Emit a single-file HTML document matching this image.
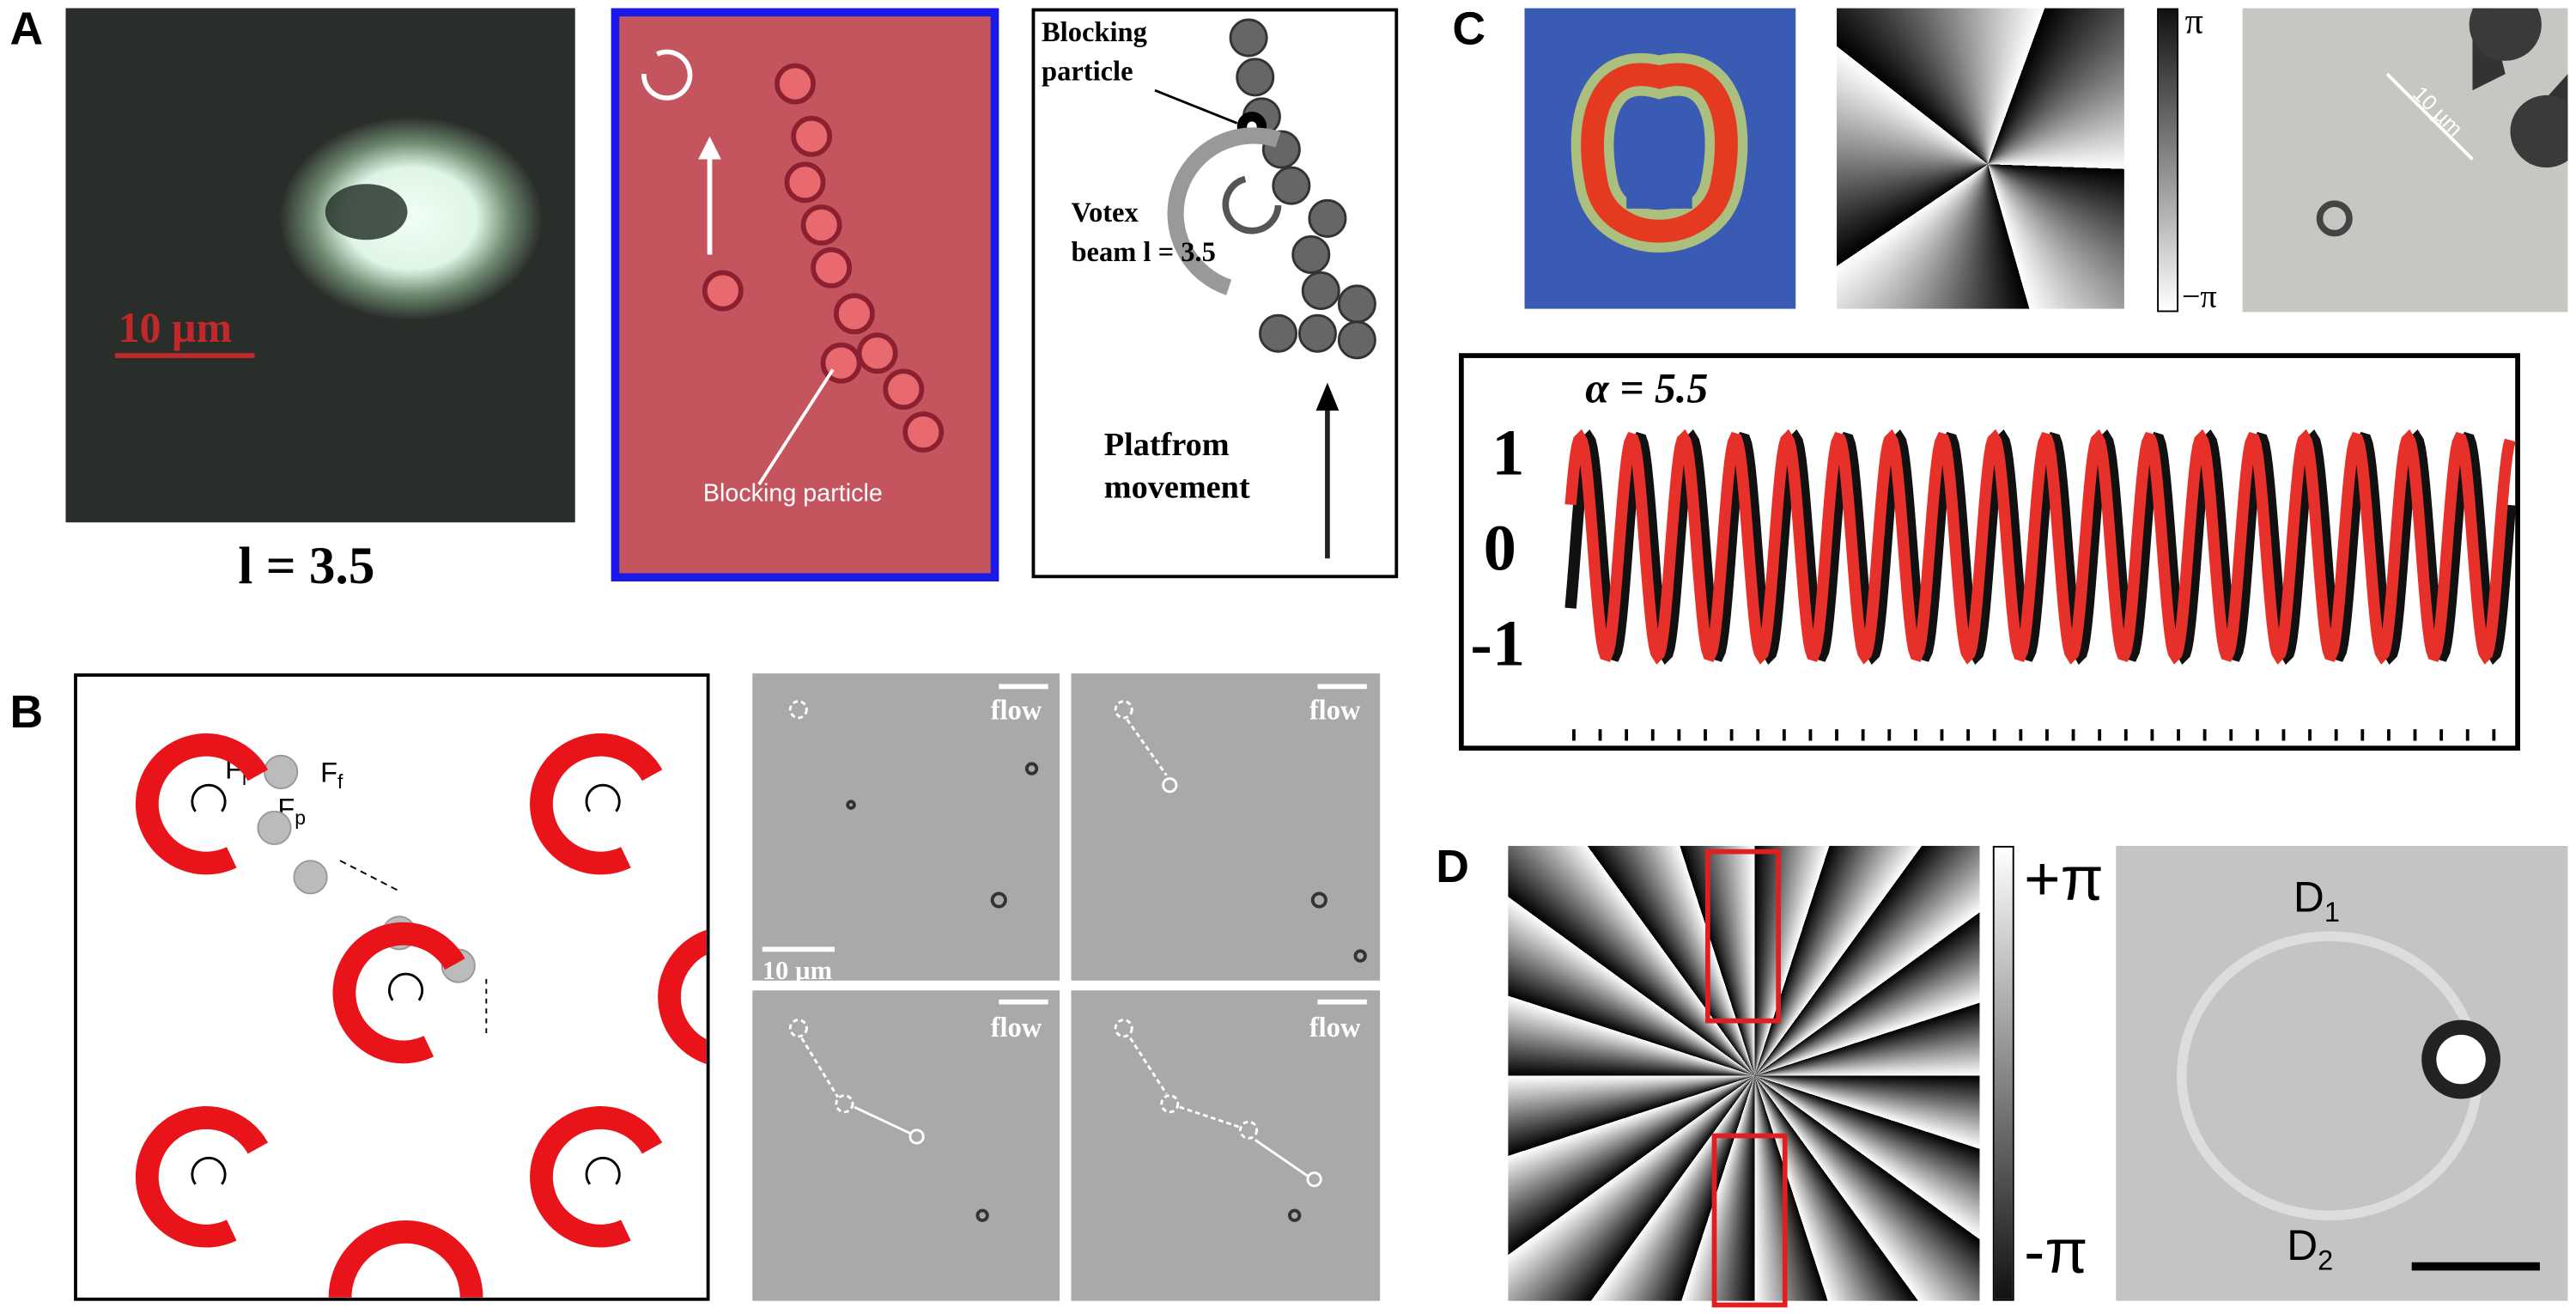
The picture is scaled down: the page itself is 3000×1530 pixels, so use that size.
<!DOCTYPE html>
<html><head><meta charset="utf-8"><style>
html,body{margin:0;padding:0;background:#fff;width:3000px;height:1530px;overflow:hidden}
#s{position:absolute;left:0;top:0;width:1568px;height:800px;transform:scale(1.91327,1.9125);transform-origin:0 0;font-family:"Liberation Sans",sans-serif}
.a{position:absolute}
.L{position:absolute;font-weight:bold;font-size:28px;color:#000}
</style></head><body><div id="s">
<div class="L" style="left:6px;top:2px">A</div>
<div class="L" style="left:6px;top:418px">B</div>
<div class="L" style="left:884px;top:2px">C</div>
<div class="L" style="left:874px;top:512px">D</div>

<!-- A1 -->
<div class="a" style="left:40px;top:5px;width:310px;height:313px;background:radial-gradient(ellipse 80px 62px at 210px 128px,#f0fff4 0%,#dff5e6 50%,#6f8a70 75%,#2a2e2b 100%),#2a2d2b"></div>
<div class="a" style="left:198px;top:112px;width:50px;height:34px;border-radius:50%;background:#1d2a22;opacity:.8"></div>
<div class="a" style="left:72px;top:185px;font-family:'Liberation Serif',serif;font-size:26px;color:#c0282a;font-weight:bold">10 µm</div>
<div class="a" style="left:70px;top:215px;width:85px;height:3px;background:#c0282a"></div>
<div class="a" style="left:145px;top:326px;font-family:'Liberation Serif',serif;font-size:32px;font-weight:bold">l = 3.5</div>

<!-- A2 -->
<div class="a" style="left:372px;top:5px;width:226px;height:339px;border:5px solid #1a1ae8;background:#c4545e"></div>
<svg class="a" style="left:372px;top:5px" width="236" height="349">
<g fill="#e86a6e" stroke="#8a2030" stroke-width="3">
<circle cx="112" cy="46" r="11"/><circle cx="122" cy="78" r="11"/><circle cx="118" cy="106" r="11"/><circle cx="128" cy="132" r="11"/><circle cx="134" cy="158" r="11"/><circle cx="148" cy="186" r="11"/><circle cx="162" cy="210" r="11"/><circle cx="140" cy="216" r="11"/><circle cx="178" cy="232" r="11"/><circle cx="190" cy="258" r="11"/><circle cx="68" cy="172" r="11"/>
</g>
<path d="M20 40 A14 14 0 1 0 28 28" stroke="#fff" stroke-width="3" fill="none"/>
<path d="M60 150 V85" stroke="#fff" stroke-width="3"/><path d="M53 92 L60 78 L67 92Z" fill="#fff"/>
<path d="M90 290 L135 220" stroke="#fff" stroke-width="2"/>
<text x="56" y="300" fill="#fff" font-size="15">Blocking particle</text>
</svg>

<!-- A3 -->
<div class="a" style="left:628px;top:5px;width:219px;height:343px;border:2px solid #000;background:#fff"></div>
<svg class="a" style="left:628px;top:5px" width="223" height="347">
<g fill="#666" stroke="#333" stroke-width="1.5">
<circle cx="132" cy="18" r="11"/><circle cx="136" cy="42" r="11"/><circle cx="140" cy="66" r="11"/><circle cx="152" cy="86" r="11"/><circle cx="158" cy="108" r="11"/><circle cx="180" cy="128" r="11"/><circle cx="170" cy="150" r="11"/><circle cx="176" cy="172" r="11"/><circle cx="198" cy="180" r="11"/><circle cx="150" cy="198" r="11"/><circle cx="174" cy="198" r="11"/><circle cx="198" cy="202" r="11"/>
</g>
<circle cx="134" cy="72" r="9" fill="#000"/><circle cx="134" cy="72" r="3" fill="#fff"/>
<path d="M120 170 A45 45 0 1 1 150 80" stroke="#999" stroke-width="10" fill="none"/>
<path d="M150 120 A16 16 0 1 1 130 104" stroke="#555" stroke-width="4" fill="none"/>
<path d="M75 50 L125 70" stroke="#000" stroke-width="1.5"/>
<text x="6" y="20" font-family="Liberation Serif,serif" font-weight="bold" font-size="17">Blocking</text>
<text x="6" y="44" font-family="Liberation Serif,serif" font-weight="bold" font-size="17">particle</text>
<text x="24" y="130" font-family="Liberation Serif,serif" font-weight="bold" font-size="17">Votex</text>
<text x="24" y="154" font-family="Liberation Serif,serif" font-weight="bold" font-size="17">beam l = 3.5</text>
<text x="44" y="272" font-family="Liberation Serif,serif" font-weight="bold" font-size="20">Platfrom</text>
<text x="44" y="298" font-family="Liberation Serif,serif" font-weight="bold" font-size="20">movement</text>
<path d="M180 335 V240" stroke="#222" stroke-width="3"/><path d="M173 245 L180 228 L187 245Z" fill="#000"/>
</svg>

<!-- C images -->
<div class="a" style="left:928px;top:5px;width:165px;height:183px;background:#3a5bb4"></div>
<svg class="a" style="left:928px;top:5px" width="165" height="183">
<path d="M82 42 C45 32 36 70 44 108 C52 145 112 145 120 108 C128 70 120 32 82 42Z" fill="none" stroke="#c8d870" stroke-width="26" opacity=".8"/>
<path d="M82 42 C45 32 36 70 44 108 C52 145 112 145 120 108 C128 70 120 32 82 42Z" fill="none" stroke="#e33a20" stroke-width="14"/>
<path d="M62 62 H102 V122 H62Z" fill="#3a5bb4"/>
</svg>
<div class="a" style="left:1118px;top:5px;width:175px;height:183px;background:conic-gradient(from 20deg at 92px 95px,#000 0deg,#fff 72deg,#000 72deg,#fff 144deg,#000 144deg,#fff 216deg,#000 216deg,#fff 288deg,#000 288deg,#fff 360deg)"></div>
<div class="a" style="left:1313px;top:5px;width:11px;height:183px;border:1px solid #000;background:linear-gradient(#111,#fff)"></div>
<div class="a" style="left:1330px;top:0px;font-size:22px;font-family:'Liberation Serif',serif">π</div>
<div class="a" style="left:1328px;top:170px;font-size:20px;font-family:'Liberation Serif',serif">−π</div>
<div class="a" style="left:1365px;top:5px;width:198px;height:185px;background:#c6c6c2"></div>
<svg class="a" style="left:1365px;top:5px" width="198" height="185">
<path d="M140 0 L150 0 L160 40 L140 50 Z" fill="#333"/><path d="M180 60 L198 40 V90 L175 95Z" fill="#333"/>
<circle cx="160" cy="10" r="22" fill="#3a3a3a"/><circle cx="185" cy="75" r="22" fill="#3a3a3a"/>
<path d="M88 40 L140 92" stroke="#fff" stroke-width="2"/>
<text x="100" y="60" fill="#fff" font-size="13" transform="rotate(45 110 60)">10 µm</text>
<circle cx="56" cy="128" r="9" fill="none" stroke="#444" stroke-width="4"/>
</svg>

<!-- C plot -->
<div class="a" style="left:888px;top:215px;width:640px;height:236px;border:3px solid #000"></div>
<svg class="a" style="left:888px;top:215px" width="646" height="242" id="cp"></svg>
<div class="a" style="left:965px;top:222px;font-family:'Liberation Serif',serif;font-style:italic;font-weight:bold;font-size:26px">α = 5.5</div>
<div class="a" style="left:908px;top:252px;font-family:'Liberation Serif',serif;font-weight:bold;font-size:40px">1</div>
<div class="a" style="left:903px;top:310px;font-family:'Liberation Serif',serif;font-weight:bold;font-size:40px">0</div>
<div class="a" style="left:895px;top:368px;font-family:'Liberation Serif',serif;font-weight:bold;font-size:40px">-1</div>

<!-- B1 -->
<div class="a" style="left:45px;top:410px;width:383px;height:378px;border:2px solid #000;overflow:hidden;background:#fff">
<svg width="383" height="378" id="b1">
<g font-size="17" fill="#000"><text x="90" y="62">F<tspan font-size="12" dy="4">l</tspan></text><text x="148" y="64">F<tspan font-size="12" dy="4">f</tspan></text><text x="122" y="86">F<tspan font-size="12" dy="4">p</tspan></text></g>
<g fill="#bbb" stroke="#999"><circle cx="124" cy="58" r="10"/><circle cx="120" cy="92" r="10"/><circle cx="142" cy="122" r="10"/><circle cx="196" cy="156" r="10"/><circle cx="232" cy="176" r="10"/></g>
<path d="M160 112 L195 130" stroke="#000" stroke-dasharray="4 3"/>
<path d="M249 184 V218" stroke="#000" stroke-dasharray="3 3"/>
</svg></div>

<!-- B2 -->
<div class="a" style="left:458px;top:410px;width:187px;height:187px;background:#a9a9a7"></div>
<div class="a" style="left:652px;top:410px;width:188px;height:187px;background:#a9a9a7"></div>
<div class="a" style="left:458px;top:603px;width:187px;height:189px;background:#a9a9a7"></div>
<div class="a" style="left:652px;top:603px;width:188px;height:189px;background:#a9a9a7"></div>
<svg class="a" style="left:458px;top:410px" width="382" height="382" font-family="Liberation Serif,serif" font-weight="bold">
<g fill="#fff" font-size="17"><text x="145" y="28">flow</text><text x="339" y="28">flow</text><text x="145" y="221">flow</text><text x="339" y="221">flow</text></g>
<g stroke="#fff" stroke-width="3"><path d="M150 8 H180"/><path d="M344 8 H374"/><path d="M150 200 H180"/><path d="M344 200 H374"/></g>
<text x="6" y="186" fill="#fff" font-size="16">10 µm</text><path d="M6 168 H50" stroke="#fff" stroke-width="3"/>
<g fill="none" stroke="#fff" stroke-width="1.5" stroke-dasharray="3 2"><circle cx="28" cy="22" r="5"/><circle cx="226" cy="22" r="5"/><path d="M228 28 L252 62"/><circle cx="28" cy="216" r="5"/><path d="M30 222 L52 258"/><circle cx="56" cy="262" r="5"/><circle cx="226" cy="216" r="5"/><circle cx="254" cy="262" r="5"/><circle cx="302" cy="278" r="5"/><path d="M230 222 L252 256 M260 264 L296 276"/></g>
<g fill="none" stroke="#fff" stroke-width="1.5"><circle cx="254" cy="68" r="4"/><path d="M62 264 L96 280"/><circle cx="100" cy="282" r="4"/><path d="M306 284 L338 306"/><circle cx="342" cy="308" r="4"/></g>
<g fill="none" stroke="#333" stroke-width="2"><circle cx="150" cy="138" r="4"/><circle cx="170" cy="58" r="3"/><circle cx="60" cy="80" r="2"/><circle cx="345" cy="138" r="4"/><circle cx="370" cy="172" r="3"/><circle cx="140" cy="330" r="3"/><circle cx="330" cy="330" r="3"/></g>
</svg>

<!-- D -->
<div class="a" style="left:918px;top:515px;width:287px;height:277px;background:repeating-conic-gradient(from 0deg at 150px 140px,#000 0deg,#fff 18deg)"></div>
<div class="a" style="left:1038px;top:517px;width:40px;height:100px;border:3px solid #e02020"></div>
<div class="a" style="left:1042px;top:690px;width:40px;height:100px;border:3px solid #e02020"></div>
<div class="a" style="left:1213px;top:515px;width:11px;height:275px;border:1px solid #000;background:linear-gradient(#fff,#111)"></div>
<div class="a" style="left:1232px;top:515px;font-size:38px;font-family:'Liberation Sans',sans-serif">+π</div>
<div class="a" style="left:1232px;top:742px;font-size:38px;font-family:'Liberation Sans',sans-serif">-π</div>
<div class="a" style="left:1288px;top:515px;width:275px;height:277px;background:#c4c4c2"></div>
<svg class="a" style="left:1288px;top:515px" width="275" height="277">
<ellipse cx="130" cy="140" rx="90" ry="85" fill="none" stroke="#e4e4e4" stroke-width="6" opacity=".8"/>
<circle cx="210" cy="130" r="24" fill="#222"/><circle cx="210" cy="130" r="15" fill="#fff"/>
<text x="108" y="40" font-size="26">D<tspan font-size="17" dy="6">1</tspan></text>
<text x="104" y="252" font-size="26">D<tspan font-size="17" dy="6">2</tspan></text>
<path d="M180 256 H258" stroke="#000" stroke-width="5"/>
</svg>
</div>
<script>
var ns="http://www.w3.org/2000/svg";
function P(svg,d,c,w){var p=document.createElementNS(ns,"path");p.setAttribute("d",d);p.setAttribute("stroke",c);p.setAttribute("stroke-width",w);p.setAttribute("fill","none");svg.appendChild(p);}
var cp=document.getElementById("cp");
function wave(ph,c){var d="";for(var x=68;x<=640;x+=1){var y=118-66*Math.sin((x-68)/31.5*2*Math.PI+ph);d+=(x==68?"M":"L")+x+" "+y.toFixed(1);}P(cp,d,c,7);}
wave(-0.6,"#111");wave(0.4,"#e8302a");
var t="";for(var x=70;x<636;x+=16){t+="M"+x+" 236 V229 ";}P(cp,t,"#000",2);
var b1=document.getElementById("b1");
function arc(cx,cy){P(b1,"M"+(cx+14)+" "+(cy+32)+" A36 36 0 1 1 "+(cx+30)+" "+(cy-18),"#e8141a",14);P(b1,"M"+(cx-8)+" "+(cy+4)+" A10 10 0 1 1 "+(cx+8)+" "+(cy+4),"#000",1.5);}
[[80,78],[320,78],[200,193],[80,305],[320,305]].forEach(function(a){arc(a[0],a[1]);});
P(b1,"M-5 160 A36 36 0 0 0 -5 230","#e8141a",14);P(b1,"M388 160 A36 36 0 0 0 388 230","#e8141a",14);
P(b1,"M160 378 A36 36 0 0 1 240 378","#e8141a",14);
</script>
</body></html>
